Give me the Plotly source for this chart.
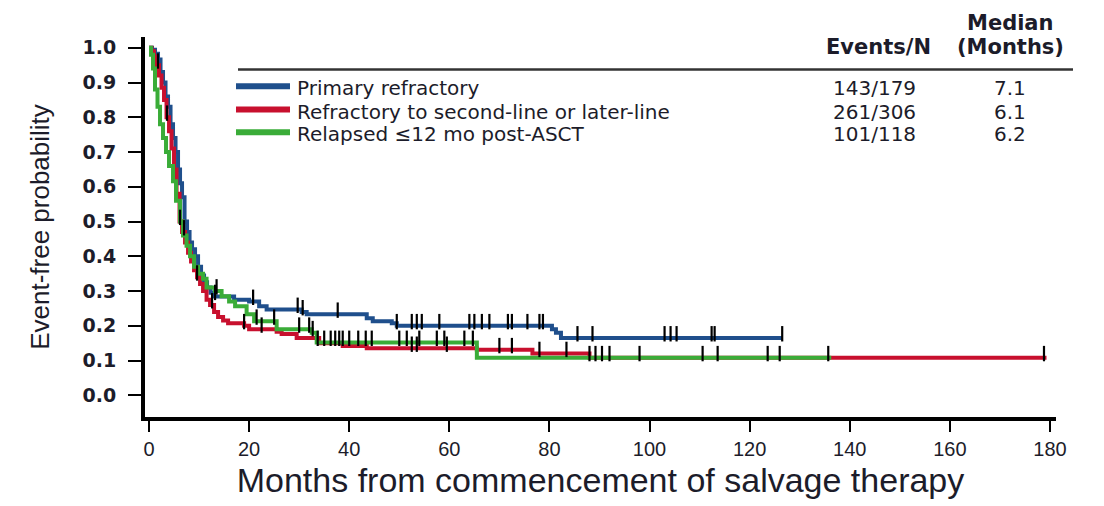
import numpy as np
import plotly.graph_objects as go

# ---- Kaplan-Meier style event-free curves (months, probability) ----
names = [
    "Primary refractory",
    "Refractory to second-line or later-line",
    "Relapsed \u226412 mo post-ASCT",
]
colors = ["#1f4f8c", "#c8102e", "#3aac38"]
events_n = ["143/179", "261/306", "101/118"]
medians = ["7.1", "6.1", "6.2"]

primary_t = [0, 0.6, 1.2, 1.8, 2.3, 2.8, 3.3, 3.8, 4.3, 4.8, 5.3, 5.8, 6.2, 6.6, 7.1,
             7.6, 8.1, 8.6, 9.2, 9.8, 10.4, 11.0, 11.6, 12.3, 13.0, 17.0, 20.0, 22.0,
             23.5, 30.5, 31.5, 43.5, 44.7, 48.5, 49.5, 80.5, 81.3, 82.3, 126.5]
primary_s = [1.0, 0.994, 0.983, 0.966, 0.93, 0.90, 0.86, 0.83, 0.78, 0.74, 0.70, 0.65,
             0.61, 0.57, 0.50, 0.47, 0.44, 0.42, 0.40, 0.37, 0.345, 0.325, 0.31, 0.295,
             0.284, 0.275, 0.27, 0.256, 0.247, 0.24, 0.233, 0.222, 0.213, 0.207, 0.20,
             0.19, 0.18, 0.165, 0.165]
primary_cens = [13.2, 20.8, 29.7, 30.7, 37.7, 49.5, 52.5, 53.5, 54.5, 58, 64, 65, 66.5,
                68, 71.7, 72.5, 75.6, 78, 78.7, 85.6, 88.6, 103, 104.2, 105.4, 112.4,
                113, 126.5]

refr_t = [0, 0.5, 1.0, 1.5, 2.0, 2.5, 3.0, 3.5, 4.0, 4.5, 5.0, 5.5, 6.1, 6.6, 7.2, 7.8,
          8.4, 9.0, 9.6, 10.2, 10.8, 11.5, 12.2, 13.0, 13.8, 14.8, 15.8, 19.0, 20.0,
          25.5, 26.5, 29.5, 34.0, 38.7, 43.5, 65.5, 76.6, 88.0, 179.3]
refr_s = [1.0, 0.99, 0.975, 0.95, 0.92, 0.885, 0.85, 0.80, 0.76, 0.71, 0.65, 0.58, 0.50,
          0.47, 0.44, 0.41, 0.385, 0.36, 0.34, 0.32, 0.30, 0.275, 0.26, 0.24, 0.225,
          0.215, 0.207, 0.20, 0.19, 0.183, 0.176, 0.165, 0.15, 0.142, 0.135, 0.131,
          0.12, 0.108, 0.108]
refr_cens = [1.8, 3.6, 7.0, 9.6, 12.6, 19, 22.5, 52.5, 53.5, 59.5, 70, 72.5, 78, 83.4,
             88, 89.2, 90.5, 92, 123.6, 178.8]

relapse_t = [0, 0.4, 0.8, 1.2, 1.7, 2.2, 2.8, 3.4, 4.0, 4.8, 5.4, 6.2, 6.8, 7.5, 8.2,
             9.0, 9.8, 10.8, 11.5, 13.2, 14.5, 16.0, 17.2, 19.5, 21.0, 25.5, 32.5,
             33.5, 65.5, 136.3]
relapse_s = [1.0, 0.98, 0.94, 0.88, 0.83, 0.78, 0.74, 0.70, 0.66, 0.616, 0.56, 0.50,
             0.46, 0.43, 0.40, 0.37, 0.35, 0.335, 0.31, 0.30, 0.285, 0.27, 0.256,
             0.233, 0.213, 0.19, 0.18, 0.152, 0.108, 0.108]
relapse_cens = [6.2, 13.5, 21.5, 25, 30, 32, 32.7, 33.7, 35, 36.3, 37.2, 38, 38.7, 40,
                41.8, 43.3, 44.5, 50, 51.5, 54, 57.5, 59, 63, 64.7, 98, 110.6, 113.6,
                126, 135.7]

x_ticks = [0, 20, 40, 60, 80, 100, 120, 140, 160, 180]
y_ticks = [0.0, 0.1, 0.2, 0.3, 0.4, 0.5, 0.6, 0.7, 0.8, 0.9, 1.0]

series = [
    (primary_t, primary_s, primary_cens),
    (refr_t, refr_s, refr_cens),
    (relapse_t, relapse_s, relapse_cens),
]

fig = go.Figure()

# step curves
for (t, s, _), col, nm in zip(series, colors, names):
    fig.add_trace(go.Scatter(
        x=t, y=s, mode="lines", name=nm, line=dict(color=col, width=4, shape="hv"),
        showlegend=False, hoverinfo="skip"))

# censoring ticks, placed on their own curve
for (t, s, cens), nm in zip(series, names):
    t_arr = np.asarray(t)
    s_arr = np.asarray(s)
    c_arr = np.asarray(cens, dtype=float)
    idx = np.searchsorted(t_arr, c_arr, side="right") - 1
    cy = s_arr[np.clip(idx, 0, len(s_arr) - 1)] + 0.012
    fig.add_trace(go.Scatter(
        x=c_arr, y=cy, mode="markers", showlegend=False, hoverinfo="skip",
        marker=dict(symbol="line-ns", size=11, color="black",
                    line=dict(color="black", width=2.2))))

# plot-area geometry in pixels, used to place the table header and legend
L, T, W, H = 145, 37, 911, 385


def px(xp):
    return (xp - L) / W


def py(yp):
    return (T + H - yp) / H


text_col = "#1c1c2a"
shapes = []
annotations = []

# table rule
shapes.append(dict(type="line", xref="paper", yref="paper",
                   x0=px(238), x1=px(1073), y0=py(70), y1=py(70),
                   line=dict(color="#333333", width=2.5)))

hdr_font = dict(family="DejaVu Sans", size=21, color=text_col, weight="bold")
annotations += [
    dict(text="Median", x=px(1010), y=py(23), xref="paper", yref="paper",
         showarrow=False, xanchor="center", yanchor="middle", font=hdr_font,
         borderpad=0),
    dict(text="(Months)", x=px(1010), y=py(47), xref="paper", yref="paper",
         showarrow=False, xanchor="center", yanchor="middle", font=hdr_font,
         borderpad=0),
    dict(text="Events/N", x=px(878), y=py(47), xref="paper", yref="paper",
         showarrow=False, xanchor="center", yanchor="middle", font=hdr_font,
         borderpad=0),
]

row_font = dict(family="DejaVu Sans", size=20, color=text_col)
num_font = dict(family="DejaVu Sans", size=20, color=text_col)
row_y = [89, 112.5, 135.5]
for nm, col, ev, med, ry in zip(names, colors, events_n, medians, row_y):
    shapes.append(dict(type="line", xref="paper", yref="paper",
                       x0=px(236), x1=px(290), y0=py(ry - 2), y1=py(ry - 2),
                       line=dict(color=col, width=6)))
    annotations.append(dict(text=nm, x=px(296), y=py(ry), xref="paper", yref="paper",
                            showarrow=False, xanchor="left", yanchor="middle",
                            font=row_font, borderpad=0))
    annotations.append(dict(text=ev, x=px(874), y=py(ry), xref="paper", yref="paper",
                            showarrow=False, xanchor="center", yanchor="middle",
                            font=num_font, borderpad=0))
    annotations.append(dict(text=med, x=px(1010), y=py(ry), xref="paper", yref="paper",
                            showarrow=False, xanchor="center", yanchor="middle",
                            font=num_font, borderpad=0))

fig.update_layout(
    width=1104, height=506,
    margin=dict(l=L, r=1104 - L - W, t=T, b=506 - T - H),
    paper_bgcolor="white", plot_bgcolor="white",
    shapes=shapes, annotations=annotations,
    xaxis=dict(
        range=[-0.8, 181.2], tickvals=x_ticks, ticktext=[str(v) for v in x_ticks],
        showgrid=False, zeroline=False, showline=True, linecolor="black", linewidth=4,
        ticks="outside", ticklen=11, tickwidth=2, tickcolor="black",
        tickfont=dict(family="Liberation Sans", size=20, color=text_col),
        title=dict(text="Months from commencement of salvage therapy",
                   font=dict(family="Liberation Sans", size=34, color=text_col),
                   standoff=10),
    ),
    yaxis=dict(
        range=[-0.0625, 1.031], tickvals=y_ticks,
        ticktext=[f"{v:.1f}" for v in y_ticks],
        showgrid=False, zeroline=False, showline=True, linecolor="black", linewidth=4,
        ticks="outside", ticklen=13, tickwidth=2, tickcolor="black",
        ticklabelstandoff=8,
        tickfont=dict(family="DejaVu Sans", size=19, color=text_col, weight="bold"),
        title=dict(text="Event-free probability",
                   font=dict(family="Liberation Sans", size=26, color=text_col),
                   standoff=26),
    ),
)

fig.write_html("out.html")
